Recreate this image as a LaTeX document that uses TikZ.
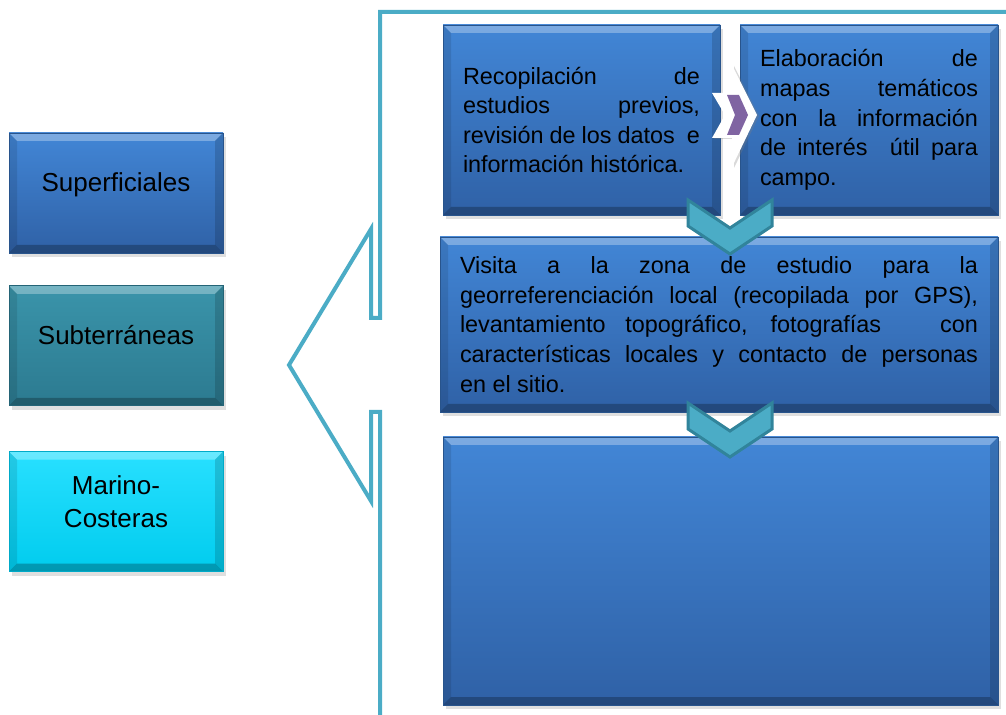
\documentclass[tikz,border=0pt]{standalone}
\usepackage{fontspec}
\setmainfont{Liberation Sans}
\usepackage{tikz}
\usetikzlibrary{positioning,shadows}

\definecolor{bluetop}{RGB}{66,134,214}
\definecolor{bluebot}{RGB}{47,97,166}
\definecolor{blueedge}{RGB}{40,84,140}
\definecolor{tealtop}{RGB}{58,148,170}
\definecolor{tealbot}{RGB}{44,122,144}
\definecolor{tealedge}{RGB}{36,100,118}
\definecolor{cyantop}{RGB}{40,224,255}
\definecolor{cyanbot}{RGB}{0,204,238}
\definecolor{cyanedge}{RGB}{0,170,200}
\definecolor{bracketline}{RGB}{75,172,198}
\definecolor{chevfill}{RGB}{75,172,198}
\definecolor{chevedge}{RGB}{49,132,155}
\definecolor{chevpurple}{RGB}{128,100,162}

\begin{document}
\begin{tikzpicture}[
x=0.5pt, y=-0.5pt,
bevel/.style={path picture={
    \fill[white, opacity=.3]
        (path picture bounding box.north west) -- (path picture bounding box.north east)
        -- ([shift={(-4pt,-4pt)}]path picture bounding box.north east)
        -- ([shift={(4pt,-4pt)}]path picture bounding box.north west) -- cycle;
    \fill[black, opacity=.25]
        (path picture bounding box.south west) -- (path picture bounding box.south east)
        -- ([shift={(-4pt,4pt)}]path picture bounding box.south east)
        -- ([shift={(4pt,4pt)}]path picture bounding box.south west) -- cycle;
    \fill[black, opacity=.1]
        (path picture bounding box.north west) -- (path picture bounding box.south west)
        -- ([shift={(4pt,4pt)}]path picture bounding box.south west)
        -- ([shift={(4pt,-4pt)}]path picture bounding box.north west) -- cycle;
    \fill[black, opacity=.15]
        (path picture bounding box.north east) -- (path picture bounding box.south east)
        -- ([shift={(-4pt,4pt)}]path picture bounding box.south east)
        -- ([shift={(-4pt,-4pt)}]path picture bounding box.north east) -- cycle;
}},
boxshadow/.style={drop shadow={shadow xshift=1.5pt, shadow yshift=-2pt, opacity=.25}},
typebox/.style={rectangle, bevel, boxshadow, minimum width=107pt, minimum height=60pt,
    align=center, font=\fontsize{13}{16.5}\selectfont},
onelabel/.style={text height=9.5pt, text depth=11.2pt},
stepbox/.style={rectangle, draw=blueedge, top color=bluetop, bottom color=bluebot,
    bevel, boxshadow, inner xsep=10pt, align=justify, font=\fontsize{11.7}{14.8}\selectfont},
bracket/.style={draw=bracketline, line width=2pt, line join=miter},
downchev/.style={fill=chevfill, draw=chevedge, line width=1.5pt, line join=miter}
]
    \useasboundingbox (0,0) rectangle (1006,715);

    %Nodes
    \node[typebox, onelabel, draw=blueedge, top color=bluetop, bottom color=bluebot]
        (sup) at (116,193)     {Superficiales};
    \node[typebox, onelabel, draw=tealedge, top color=tealtop, bottom color=tealbot]
        (sub) [below=16pt of sup] {Subterráneas};
    \node[typebox, text depth=10pt, draw=cyanedge, top color=cyantop, bottom color=cyanbot]
        (mar) [below=22.5pt of sub] {Marino-\\Costeras};

    \node[stepbox, minimum width=138.5pt, minimum height=95pt, text width=118.5pt]
        (rec) at (581.5,120)   {\makebox[\hsize][s]{Recopilación de}\\
                                \makebox[\hsize][s]{estudios previos,}\\
                                \makebox[\hsize][s]{revisión de los datos\ \ e}\\
                                información histórica.};
    \node[stepbox, minimum width=129pt, minimum height=95pt, text width=109pt]
        (ela) at (869,120)     {\makebox[\hsize][s]{Elaboración de}\\
                                \makebox[\hsize][s]{mapas temáticos}\\
                                \makebox[\hsize][s]{con la información}\\
                                \makebox[\hsize][s]{de interés\ \ útil para}\\
                                campo.};
    \node[stepbox, minimum width=279pt, minimum height=87.5pt, text width=259pt]
        (vis) at (719,324.5)   {\makebox[\hsize][s]{Visita a la zona de estudio para la}\\
                                \makebox[\hsize][s]{georreferenciación local (recopilada por GPS),}\\
                                \makebox[\hsize][s]{levantamiento topográfico, fotografías\ \ \ con}\\
                                \makebox[\hsize][s]{características locales y contacto de personas}\\
                                en el sitio.};
    \node[stepbox, minimum width=277.5pt, minimum height=134pt]
        (res) at (720.5,571)   {};

    %Lines
    \draw[bracket] (1006,12) -- (380,12) -- (380,318) -- (371,318) -- (371,229)
        -- (289,365) -- (371,501) -- (371,412) -- (380,412) -- (380,716);

    %Arrows
    \fill[white, drop shadow={shadow xshift=1pt, shadow yshift=-.5pt, opacity=.3}]
        (732,65) -- (757,115) -- (732,167) -- (732,138) -- (712,138)
        -- (725,115) -- (712,93) -- (732,93) -- cycle;
    \fill[chevpurple] (727,95) -- (739,95) -- (748,115) -- (739,135) -- (727,135)
        -- (735,115) -- cycle;
    \filldraw[downchev] (688,200) -- (730,228) -- (772,200) -- (772,226)
        -- (730,254) -- (688,226) -- cycle;
    \filldraw[downchev] (688,403) -- (730,431) -- (772,403) -- (772,429)
        -- (730,457) -- (688,429) -- cycle;
\end{tikzpicture}
\end{document}
